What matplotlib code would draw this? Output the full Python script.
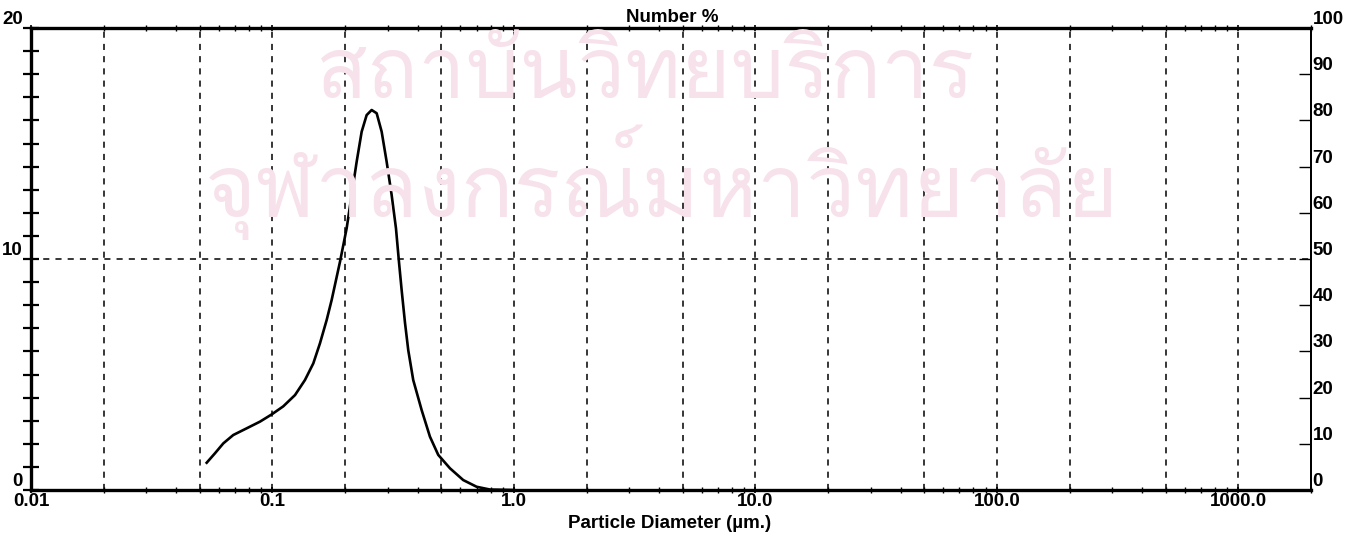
import matplotlib
matplotlib.use("Agg")
import matplotlib.pyplot as plt
import matplotlib.ticker as mticker
from matplotlib import font_manager
from matplotlib.ft2font import FT2Font

# Particle size distribution
diameter_um = [0.0534, 0.0578, 0.0626, 0.0688, 0.0782, 0.0888, 0.0992, 0.1108, 0.1240,
               0.1363, 0.1476, 0.1573, 0.1677, 0.1759, 0.1904, 0.2029, 0.2128, 0.2232,
               0.2341, 0.2455, 0.2575, 0.2701, 0.2833, 0.2971, 0.3116, 0.3247, 0.3341,
               0.3428, 0.3538, 0.3651, 0.3828, 0.4148, 0.4489, 0.4859, 0.5433, 0.6167,
               0.7006, 0.7957, 1.0]
number_pct = [1.18, 1.59, 2.02, 2.38, 2.67, 2.96, 3.27, 3.62, 4.11,
              4.76, 5.48, 6.35, 7.36, 8.23, 9.88, 11.33, 12.77, 14.21,
              15.51, 16.23, 16.45, 16.31, 15.51, 14.21, 12.77, 11.33, 9.88,
              8.65, 7.25, 6.05, 4.76, 3.46, 2.31, 1.52, 0.94, 0.43,
              0.14, 0.02, 0.0]

grid_x = [0.02, 0.05, 0.1, 0.2, 0.5, 1, 2, 5, 10, 20, 50, 100, 200, 500, 1000]
x_tick_values = [0.01, 0.1, 1.0, 10.0, 100.0, 1000.0]
x_tick_labels = ["0.01", "0.1", "1.0", "10.0", "100.0", "1000.0"]
left_ticks = [0, 10, 20]
right_ticks = [0, 10, 20, 30, 40, 50, 60, 70, 80, 90, 100]

watermark_lines = ["สถาบันวิทยบริการ", "จุฬาลงกรณ์มหาวิทยาลัย"]

FONT = "Liberation Sans"
FS = 13.5


def find_thai_font():
    for f in font_manager.fontManager.ttflist:
        try:
            ft = FT2Font(f.fname)
            if ft.get_char_index(ord("ก")) and ft.get_char_index(ord("ั")):
                return f.name
        except Exception:
            continue
    return None


fig = plt.figure(figsize=(13.62, 5.36), dpi=100)
ax = fig.add_axes([31 / 1362, 1 - 490 / 536, (1311 - 31) / 1362, (490 - 28) / 536])

# faint library watermark behind the plot
thai = find_thai_font()
if thai:
    fig.text(646 / 1362, 1 - 77 / 536, watermark_lines[0], family=thai, fontsize=61,
             color="#f7e1ea", ha="center", va="center", zorder=0)
    fig.text(662 / 1362, 1 - 182 / 536, watermark_lines[1], family=thai, fontsize=63,
             color="#f7e1ea", ha="center", va="center", zorder=0)
ax.patch.set_alpha(0)

ax.set_xscale("log")
ax.set_xlim(0.01, 2000)
ax.set_ylim(0, 20)

for gx in grid_x:
    ax.axvline(gx, color="black", lw=1.1, ls=(0, (4, 4)), zorder=1)
ax.axhline(10, color="black", lw=1.1, ls=(0, (4, 4)), zorder=1)

ax.plot(diameter_um, number_pct, color="black", lw=1.9, zorder=3, solid_joinstyle="round")

# x axis
ax.set_xticks(x_tick_values)
ax.set_xticklabels(x_tick_labels, fontsize=FS, fontweight="bold", family=FONT)
ax.xaxis.set_minor_locator(mticker.LogLocator(base=10, subs=range(2, 10), numticks=20))
ax.xaxis.set_minor_formatter(mticker.NullFormatter())
ax.tick_params(axis="x", which="major", direction="inout", length=5, width=1.2, pad=0, top=True)
ax.tick_params(axis="x", which="minor", direction="inout", length=4, width=1.0, top=True)

# left axis
ax.set_yticks(left_ticks)
ax.set_yticklabels([str(v) for v in left_ticks], fontsize=FS, fontweight="bold", family=FONT,
                   va="bottom")
ax.yaxis.set_minor_locator(mticker.MultipleLocator(1))
ax.tick_params(axis="y", which="both", direction="inout", length=12, width=1.6, pad=0)

# right axis in percent
ax2 = ax.twinx()
ax2.set_ylim(0, 100)
ax2.set_yticks(right_ticks)
ax2.set_yticklabels([str(v) for v in right_ticks], fontsize=FS, fontweight="bold", family=FONT,
                    va="bottom")
ax2.tick_params(axis="y", direction="in", length=9, width=1.0, pad=1)

for name in ["left", "bottom", "top"]:
    ax.spines[name].set_linewidth(2.4)
ax.spines["right"].set_linewidth(1.4)
ax2.spines["right"].set_linewidth(1.4)
for name in ["left", "bottom", "top"]:
    ax2.spines[name].set_visible(False)

fig.text(672 / 1362, 1 - 17 / 536, "Number %", fontsize=FS, fontweight="bold", family=FONT,
         ha="center", va="center")
fig.text(670 / 1362, 1 - 523 / 536, "Particle Diameter (\u00b5m.)", fontsize=FS, fontweight="bold",
         family=FONT, ha="center", va="center")

fig.savefig("out.png", dpi=100)
